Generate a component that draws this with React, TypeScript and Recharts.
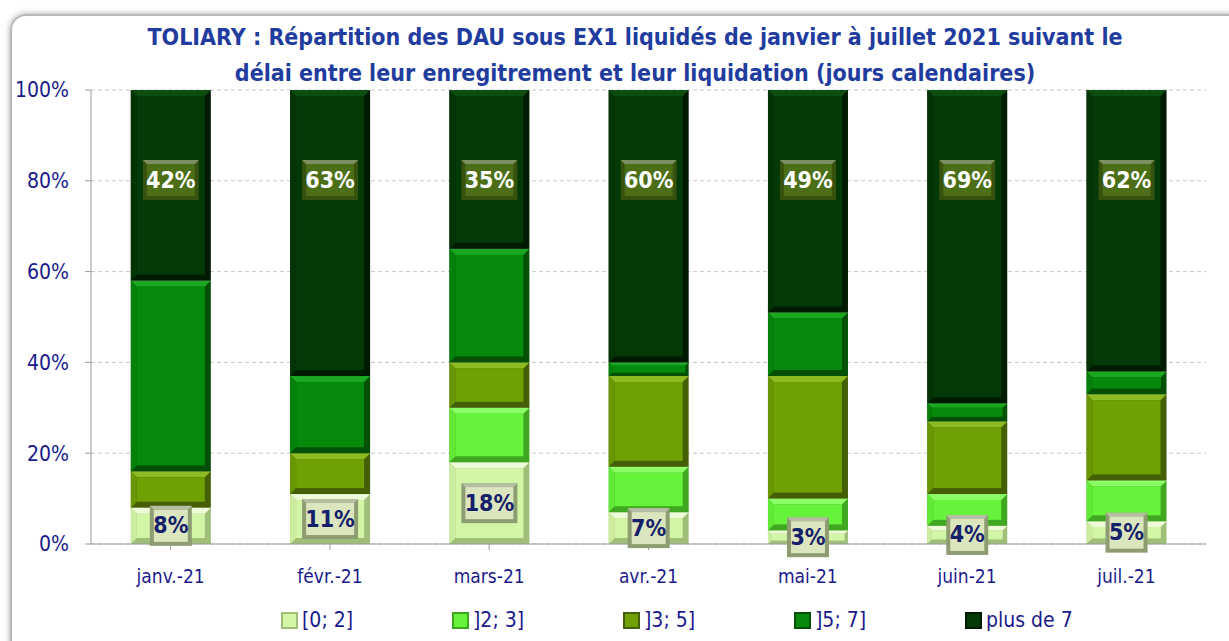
import { BarChart, Bar, XAxis, YAxis, CartesianGrid, LabelList } from 'recharts';

const months = ['janv.-21', 'févr.-21', 'mars-21', 'avr.-21', 'mai-21', 'juin-21', 'juil.-21'];
const s0_2 = [8, 11, 18, 7, 3, 4, 5];
const s2_3 = [0, 0, 12, 10, 7, 7, 9];
const s3_5 = [8, 9, 10, 20, 27, 16, 19];
const s5_7 = [42, 17, 25, 3, 14, 4, 5];
const sPlus7 = [42, 63, 35, 60, 49, 69, 62];
const yTicks = [0, 20, 40, 60, 80, 100];

const series = [
  { key: 'a', name: '[0; 2]', values: s0_2, fill: '#d3f5a6', light: '#eefbd9', dark: '#9fbf78' },
  { key: 'b', name: ']2; 3]', values: s2_3, fill: '#66f43a', light: '#8dff66', dark: '#3fa820' },
  { key: 'c', name: ']3; 5]', values: s3_5, fill: '#6fa104', light: '#8dbb22', dark: '#445f06' },
  { key: 'd', name: ']5; 7]', values: s5_7, fill: '#058a0c', light: '#1aa820', dark: '#035006' },
  { key: 'e', name: 'plus de 7', values: sPlus7, fill: '#033a07', light: '#0d4d10', dark: '#011a02' },
];

const data = months.map((m, i) => {
  const row: any = { month: m };
  series.forEach((s) => (row[s.key] = s.values[i]));
  return row;
});

const NAVY = '#1a1a8c';
const FONT = "'DejaVu Sans Condensed', 'Liberation Sans Narrow', 'Liberation Sans', sans-serif";

function bevel(fill: string, light: string, dark: string) {
  return (props: any) => {
    const { x, y, width, height } = props;
    if (!height || height <= 0) return <g />;
    const b = Math.min(6, height / 4);
    return (
      <g>
        <rect x={x} y={y} width={width} height={height} fill={dark} />
        <polygon points={`${x},${y} ${x + width},${y} ${x + width - b},${y + b} ${x + b},${y + b}`} fill={light} />
        <polygon points={`${x},${y} ${x + b},${y + b} ${x + b},${y + height - b} ${x},${y + height}`} fill={fill} opacity={0.85} />
        <rect x={x + b} y={y + b} width={width - 2 * b} height={height - 2 * b} fill={fill} />
      </g>
    );
  };
}

function LabelBox(cx: number, cy: number, text: string, bg: string, edge: string, color: string) {
  const w = text.length * 14 + 14;
  const h = 40;
  const b = 4;
  const x = cx - w / 2;
  const y = cy - h / 2;
  return (
    <g>
      <rect x={x} y={y} width={w} height={h} fill={edge} />
      <polygon points={`${x},${y} ${x + w},${y} ${x + w - b},${y + b} ${x + b},${y + b}`} fill="#ffffff" opacity={0.35} />
      <rect x={x + b} y={y + b} width={w - 2 * b} height={h - 2 * b} fill={bg} />
      <text x={cx} y={cy + 1} textAnchor="middle" dominantBaseline="middle" fill={color}
        style={{ fontFamily: FONT, fontWeight: 700, fontSize: 23 }}>{text}</text>
    </g>
  );
}

const bottomLabel = (props: any) => {
  const { x, y, width, height, value } = props;
  return LabelBox(x + width / 2, y + height / 2, `${value}%`, '#dce6be', '#8e9c72', '#14206a');
};

const topLabel = (props: any) => {
  const { x, y, width, value } = props;
  return LabelBox(x + width / 2, y + 90, `${value}%`, '#4b6e17', '#36520e', '#ffffff');
};

export default function App() {
  return (
    <div style={{ position: 'absolute', left: 0, top: 0, width: 1229, height: 641, background: '#fff', overflow: 'hidden' }}>
      <div style={{ position: 'absolute', left: 10, top: 14, width: 1230, height: 660, border: '2px solid #b8b8b8', borderRadius: 16, boxShadow: '0 0 6px rgba(0,0,0,0.35)' }} />
      <div style={{ position: 'absolute', left: 0, top: 19, width: 1270, textAlign: 'center', color: '#1f3c9e', fontFamily: FONT, fontWeight: 700, fontSize: 23, lineHeight: '36px' }}>
        TOLIARY : Répartition des DAU sous EX1 liquidés de janvier à juillet 2021 suivant le<br />
        délai entre leur enregitrement et leur liquidation (jours calendaires)
      </div>
      <div style={{ position: 'absolute', left: 0, top: 0 }}>
        <BarChart width={1229} height={641} data={data} margin={{ top: 90, right: 23, bottom: 57, left: 0 }} barCategoryGap="25%">
          <CartesianGrid vertical={false} stroke="#c8c8c8" strokeDasharray="4 3" />
          <XAxis dataKey="month" height={40} tickLine={{ stroke: '#9a9a9a' }} axisLine={{ stroke: '#9a9a9a' }} tickSize={6}
            tick={{ fill: NAVY, fontSize: 19, fontFamily: FONT }} tickMargin={20} interval={0} />
          <YAxis width={91} domain={[0, 100]} ticks={yTicks} tickFormatter={(v) => `${v}%`} axisLine={{ stroke: '#9a9a9a' }}
            tickLine={{ stroke: '#9a9a9a' }} tickSize={6} tick={{ fill: NAVY, fontSize: 21, fontFamily: FONT }} tickMargin={16} />
          {series.map((s, i) => (
            <Bar key={s.key} dataKey={s.key} name={s.name} stackId="1" fill={s.fill} isAnimationActive={false}
              shape={bevel(s.fill, s.light, s.dark)}>
              {i === 0 && <LabelList dataKey={s.key} content={bottomLabel} />}
              {i === 4 && <LabelList dataKey={s.key} content={topLabel} />}
            </Bar>
          ))}
        </BarChart>
      </div>
      <div style={{ position: 'absolute', left: 281, top: 608, display: 'flex', fontFamily: FONT, fontSize: 21, color: NAVY }}>
        {series.map((s) => (
          <div key={s.key} style={{ display: 'flex', alignItems: 'center', width: 171 }}>
            <span style={{ display: 'inline-block', width: 13, height: 13, background: s.fill, border: `2px solid ${s.dark}`, marginRight: 4 }} />
            {s.name}
          </div>
        ))}
      </div>
    </div>
  );
}
